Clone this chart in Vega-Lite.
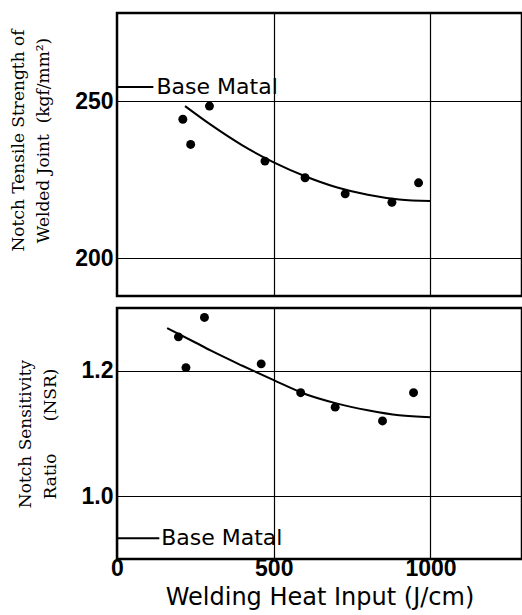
{
  "$schema": "https://vega.github.io/schema/vega-lite/v6.json",
  "background": "white",
  "padding": {"left": 8, "top": 11, "right": 0, "bottom": 5},
  "config": {
    "view": {"stroke": "black", "strokeWidth": 2.5},
    "axis": {
      "grid": true, "gridColor": "black", "gridWidth": 1.2, "gridOpacity": 1,
      "domain": false, "ticks": false,
      "labelFont": "Liberation Sans", "labelFontSize": 23, "labelFontWeight": "bold", "labelColor": "black",
      "titleColor": "black", "labelFlush": false
    }
  },
  "datasets": {
    "topPoints": [
      {"heat": 210, "strength": 244.2},
      {"heat": 235, "strength": 236.2},
      {"heat": 295, "strength": 248.4},
      {"heat": 472, "strength": 230.9},
      {"heat": 600, "strength": 225.6},
      {"heat": 728, "strength": 220.5},
      {"heat": 877, "strength": 217.8},
      {"heat": 962, "strength": 224.0}
    ],
    "topCurve": [
      {"heat": 217, "strength": 248.4},
      {"heat": 300, "strength": 242.4},
      {"heat": 400, "strength": 235.9},
      {"heat": 500, "strength": 230.5},
      {"heat": 600, "strength": 226.1},
      {"heat": 700, "strength": 222.6},
      {"heat": 800, "strength": 220.2},
      {"heat": 900, "strength": 218.7},
      {"heat": 1000, "strength": 218.2}
    ],
    "topBase": [
      {"heat": 0, "heatEnd": 116, "labelHeat": 126, "strength": 254.5, "label": "Base Matal"}
    ],
    "bottomPoints": [
      {"heat": 196, "nsr": 1.254},
      {"heat": 220, "nsr": 1.205},
      {"heat": 279, "nsr": 1.285},
      {"heat": 460, "nsr": 1.211},
      {"heat": 586, "nsr": 1.165},
      {"heat": 696, "nsr": 1.142},
      {"heat": 847, "nsr": 1.120},
      {"heat": 946, "nsr": 1.165}
    ],
    "bottomCurve": [
      {"heat": 160, "nsr": 1.268},
      {"heat": 250, "nsr": 1.245},
      {"heat": 300, "nsr": 1.232},
      {"heat": 400, "nsr": 1.208},
      {"heat": 500, "nsr": 1.185},
      {"heat": 600, "nsr": 1.163},
      {"heat": 700, "nsr": 1.148},
      {"heat": 800, "nsr": 1.137},
      {"heat": 900, "nsr": 1.129},
      {"heat": 1000, "nsr": 1.126}
    ],
    "bottomBase": [
      {"heat": 0, "heatEnd": 135, "labelHeat": 141, "nsr": 0.933, "label": "Base Matal"}
    ]
  },
  "spacing": 8,
  "vconcat": [
    {
      "width": 405,
      "height": 283,
      "encoding": {
        "x": {"field": "heat", "type": "quantitative",
              "scale": {"domain": [0, 1292], "nice": false, "zero": false},
              "axis": {"values": [500, 1000], "labels": false, "title": null, "minExtent": 0, "maxExtent": 0}},
        "y": {"field": "strength", "type": "quantitative",
              "scale": {"domain": [188, 278], "nice": false, "zero": false},
              "axis": {"values": [200, 250], "format": "d", "labelPadding": 4,
                       "title": ["Notch Tensile Strength of", "Welded Joint\u00a0\u00a0(kgf/mm²)"],
                       "titleFont": "DejaVu Serif", "titleFontSize": 17, "titleFontWeight": "normal",
                       "titleLineHeight": 25, "titlePadding": 22, "titleY": 127}}
      },
      "layer": [
        {"data": {"name": "topCurve"},
         "mark": {"type": "line", "color": "black", "strokeWidth": 2, "interpolate": "monotone"}},
        {"data": {"name": "topPoints"},
         "mark": {"type": "point", "filled": true, "color": "black", "size": 80, "opacity": 1}},
        {"data": {"name": "topBase"},
         "mark": {"type": "rule", "color": "black", "strokeWidth": 2},
         "encoding": {"x2": {"field": "heatEnd"}}},
        {"data": {"name": "topBase"},
         "mark": {"type": "text", "align": "left", "baseline": "middle", "font": "DejaVu Sans", "fontSize": 22, "color": "black"},
         "encoding": {"x": {"field": "labelHeat", "type": "quantitative"}, "text": {"field": "label"}}}
      ]
    },
    {
      "width": 405,
      "height": 251,
      "encoding": {
        "x": {"field": "heat", "type": "quantitative",
              "scale": {"domain": [0, 1292], "nice": false, "zero": false},
              "axis": {"values": [0, 500, 1000], "format": "d", "labelPadding": -2,
                       "title": "Welding Heat Input (J/cm)",
                       "titleFont": "DejaVu Sans", "titleFontSize": 24, "titleFontWeight": "normal",
                       "titlePadding": 5}},
        "y": {"field": "nsr", "type": "quantitative",
              "scale": {"domain": [0.9, 1.3], "nice": false, "zero": false},
              "axis": {"values": [1.0, 1.2], "format": ".1f", "labelPadding": 4,
                       "title": ["Notch Sensitivity", "Ratio\u00a0\u00a0\u00a0\u00a0\u00a0\u00a0(NSR)"],
                       "titleFont": "DejaVu Serif", "titleFontSize": 17, "titleFontWeight": "normal",
                       "titleLineHeight": 25, "titlePadding": 22}}
      },
      "layer": [
        {"data": {"name": "bottomCurve"},
         "mark": {"type": "line", "color": "black", "strokeWidth": 2, "interpolate": "monotone"}},
        {"data": {"name": "bottomPoints"},
         "mark": {"type": "point", "filled": true, "color": "black", "size": 80, "opacity": 1}},
        {"data": {"name": "bottomBase"},
         "mark": {"type": "rule", "color": "black", "strokeWidth": 2},
         "encoding": {"x2": {"field": "heatEnd"}}},
        {"data": {"name": "bottomBase"},
         "mark": {"type": "text", "align": "left", "baseline": "middle", "font": "DejaVu Sans", "fontSize": 22, "color": "black"},
         "encoding": {"x": {"field": "labelHeat", "type": "quantitative"}, "text": {"field": "label"}}}
      ]
    }
  ]
}
